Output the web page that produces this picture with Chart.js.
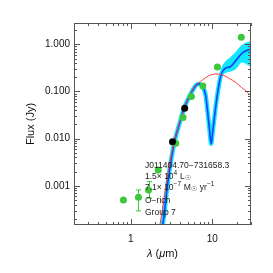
<!DOCTYPE html>
<html>
<head>
<meta charset="utf-8">
<script src="https://cdn.jsdelivr.net/npm/chart.js@4.4.1/dist/chart.umd.min.js"></script>
<style>
  html, body { margin: 0; padding: 0; background: #fff; }
  #wrap { width: 273px; height: 273px; }
</style>
</head>
<body>
<div id="wrap"><canvas id="sed"></canvas></div>
<script>
// axis ticks
const xTickValues = [1, 10];
const xTickLabels = ['1', '10'];
const yTickValues = [0.001, 0.01, 0.1, 1];
const yTickLabels = ['0.001', '0.010', '0.100', '1.000'];

// photometry (green), error bars only where drawn
const photWave = [0.81, 1.24, 1.65, 2.17, 3.57, 4.38, 5.55, 7.68, 11.6, 22.8];
const photFlux = [5.0e-4, 5.7e-4, 8.2e-4, 2.17e-3, 8.0e-3, 0.028, 0.078, 0.131, 0.33, 1.41];
const photErrLo = [null, 2.95e-4, 5.5e-4, null, null, null, null, null, null, null];
const photErrHi = [null, 8.2e-4, 1.23e-3, null, null, null, null, null, null, null];

// second epoch points (black)
const iracWave = [3.25, 4.59];
const iracFlux = [8.6e-3, 0.044];

// photosphere (red)
const photoWave = [2.0, 2.28, 2.8, 3.37, 4.0, 4.47, 5.2, 6.0, 7.6, 9.0, 11.0, 13.5, 16.3, 19.2, 23.0, 26.0, 30.0];
const photoFlux = [4e-5, 1.48e-4, 1.5e-3, 8.1e-3, 0.0226, 0.044, 0.076, 0.124, 0.175, 0.213, 0.235, 0.224, 0.188, 0.159, 0.121, 0.103, 0.08];

// best-fit model (blue)
const modelWave = [2.1, 2.46, 2.9, 3.42, 4.0, 4.53, 5.6, 6.3, 6.8, 7.6, 8.3, 8.82, 9.28, 9.72, 10.2, 11.2, 12.0, 12.9, 14.5, 16.7, 19.3, 23.2, 30.0];
const modelFlux = [5e-5, 1.48e-4, 1.5e-3, 8.3e-3, 0.022, 0.045, 0.098, 0.135, 0.145, 0.128, 0.084, 0.035, 0.0153, 0.0078, 0.0153, 0.057, 0.127, 0.23, 0.31, 0.335, 0.44, 0.645, 0.8];

// spread of acceptable models (cyan)
const bandWave = [12.0, 12.9, 14.5, 16.7, 19.3, 23.2, 30.0];
const bandHi = [0.15, 0.285, 0.42, 0.52, 0.66, 0.95, 1.15];
const bandLo = [0.11, 0.2, 0.25, 0.27, 0.3, 0.42, 0.34];

const labelLines = [
  [['J011404.70\u2212731658.3', '']],
  [['1.5\u00d7 10', ''], ['4', 'sup'], [' L', ''], ['\u2609', 'sub']],
  [['7.1\u00d7 10', ''], ['\u22127', 'sup'], [' M', ''], ['\u2609', 'sub'], [' yr', ''], ['\u22121', 'sup']],
  [['O\u2212rich', '']],
  [['Group 7', '']]
];
const labelBaselines = [167.5, 178.5, 189.5, 203, 214.5];

const pts = (xs, ys) => xs.map((v, i) => ({ x: v, y: ys[i] }));
const FONT = "'Liberation Sans', Arial, sans-serif";

function logMarks(min, max) {
  const out = [];
  for (let e = Math.floor(Math.log10(min)); e <= Math.ceil(Math.log10(max)); e++) {
    for (let k = 1; k <= 9; k++) {
      const v = k * Math.pow(10, e);
      if (v >= min && v <= max) out.push({ v, major: k === 1 });
    }
  }
  return out;
}

const decorations = {
  id: 'decorations',
  afterDraw(chart) {
    const { ctx, chartArea: a, scales: { x, y } } = chart;
    ctx.save();
    // error bars
    ctx.strokeStyle = '#3cc83a';
    ctx.lineWidth = 1;
    photWave.forEach((w, i) => {
      if (photErrLo[i] == null) return;
      const px = Math.round(x.getPixelForValue(w)) + 0.5;
      const y1 = y.getPixelForValue(photErrHi[i]);
      const y2 = y.getPixelForValue(photErrLo[i]);
      ctx.beginPath();
      ctx.moveTo(px, y1); ctx.lineTo(px, y2);
      ctx.moveTo(px - 2.5, y1); ctx.lineTo(px + 2.5, y1);
      ctx.moveTo(px - 2.5, y2); ctx.lineTo(px + 2.5, y2);
      ctx.stroke();
    });

    // frame and inward ticks
    ctx.strokeStyle = '#555';
    ctx.strokeRect(a.left + 0.5, a.top + 0.5, a.right - a.left - 1, a.bottom - a.top - 1);
    ctx.beginPath();
    logMarks(x.min, x.max).forEach(m => {
      const px = Math.round(x.getPixelForValue(m.v)) + 0.5;
      const len = m.major ? 6 : 3;
      ctx.moveTo(px, a.bottom); ctx.lineTo(px, a.bottom - len);
      ctx.moveTo(px, a.top); ctx.lineTo(px, a.top + len);
    });
    logMarks(y.min, y.max).forEach(m => {
      const py = Math.round(y.getPixelForValue(m.v)) + 0.5;
      const len = m.major ? 6 : 3;
      ctx.moveTo(a.left, py); ctx.lineTo(a.left + len, py);
      ctx.moveTo(a.right, py); ctx.lineTo(a.right - len, py);
    });
    ctx.stroke();

    // axis titles
    ctx.fillStyle = '#111';
    ctx.textBaseline = 'middle';
    ctx.font = '11px ' + FONT;
    ctx.save();
    ctx.translate(31, (a.top + a.bottom) / 2);
    ctx.rotate(-Math.PI / 2);
    ctx.textAlign = 'center';
    ctx.fillText('Flux (Jy)', 0, 0);
    ctx.restore();

    const parts = [['\u03bb', true], [' (', false], ['\u03bc', true], ['m)', false]];
    let total = 0;
    parts.forEach(p => {
      ctx.font = (p[1] ? 'italic ' : '') + '11px ' + FONT;
      total += ctx.measureText(p[0]).width;
    });
    let tx = (a.left + a.right) / 2 - total / 2;
    ctx.textAlign = 'left';
    parts.forEach(p => {
      ctx.font = (p[1] ? 'italic ' : '') + '11px ' + FONT;
      ctx.fillText(p[0], tx, 254);
      tx += ctx.measureText(p[0]).width;
    });

    // source annotation
    ctx.fillStyle = '#1a1a1a';
    ctx.textBaseline = 'alphabetic';
    labelLines.forEach((line, li) => {
      let lx = 145;
      const base = labelBaselines[li];
      line.forEach(([t, kind]) => {
        if (kind === 'sup') {
          ctx.font = '6.5px ' + FONT;
          ctx.fillText(t, lx, base - 3.5);
        } else if (kind === 'sub') {
          ctx.font = '6.5px ' + FONT;
          ctx.fillText(t, lx, base + 1.5);
        } else {
          ctx.font = '8.5px ' + FONT;
          ctx.fillText(t, lx, base);
        }
        lx += ctx.measureText(t).width + (kind ? 0.5 : 0);
      });
    });
    ctx.restore();
  }
};

new Chart(document.getElementById('sed'), {
  type: 'scatter',
  data: {
    datasets: [
      {
        data: pts(iracWave, iracFlux),
        backgroundColor: '#000', borderColor: '#000',
        pointRadius: 3.5, pointBorderWidth: 0
      },
      {
        data: pts(photWave, photFlux),
        backgroundColor: '#3cc83a', borderColor: '#3cc83a',
        pointRadius: 3.5, pointBorderWidth: 0
      },
      {
        data: pts(photoWave, photoFlux),
        showLine: true, borderColor: '#ff3b3b', borderWidth: 1,
        pointRadius: 0, cubicInterpolationMode: 'monotone', fill: false
      },
      {
        data: pts(modelWave, modelFlux),
        showLine: true, borderColor: '#1240ff', borderWidth: 1.6,
        pointRadius: 0, cubicInterpolationMode: 'monotone', fill: false
      },
      {
        data: pts(modelWave, modelFlux),
        showLine: true, borderColor: '#12e6ff', borderWidth: 4.5,
        pointRadius: 0, cubicInterpolationMode: 'monotone', fill: false
      },
      {
        data: pts(bandWave, bandHi),
        showLine: true, borderColor: '#12e6ff', borderWidth: 1,
        backgroundColor: '#12e6ff',
        pointRadius: 0, cubicInterpolationMode: 'monotone', fill: '+1'
      },
      {
        data: pts(bandWave, bandLo),
        showLine: true, borderColor: '#12e6ff', borderWidth: 1,
        pointRadius: 0, cubicInterpolationMode: 'monotone', fill: false
      }
    ]
  },
  options: {
    responsive: true,
    maintainAspectRatio: false,
    animation: false,
    layout: { padding: { top: 23, right: 22, bottom: 0, left: 0 } },
    plugins: {
      legend: { display: false },
      tooltip: { enabled: false }
    },
    scales: {
      x: {
        type: 'logarithmic',
        min: 0.2, max: 30,
        grid: { display: false, drawTicks: false },
        border: { display: false },
        afterBuildTicks: s => { s.ticks = xTickValues.map(v => ({ value: v })); },
        afterFit: s => { s.height = 48; },
        ticks: {
          padding: 8,
          maxRotation: 0,
          color: '#111',
          font: { family: FONT, size: 10 },
          callback: (v) => xTickLabels[xTickValues.indexOf(v)]
        }
      },
      y: {
        type: 'logarithmic',
        min: 1.48e-4, max: 2.83,
        grid: { display: false, drawTicks: false },
        border: { display: false },
        afterBuildTicks: s => { s.ticks = yTickValues.map(v => ({ value: v })); },
        afterFit: s => { s.width = 74; },
        ticks: {
          padding: 4,
          color: '#111',
          font: { family: FONT, size: 10 },
          callback: (v) => yTickLabels[yTickValues.indexOf(v)]
        }
      }
    }
  },
  plugins: [decorations]
});
</script>
</body>
</html>
